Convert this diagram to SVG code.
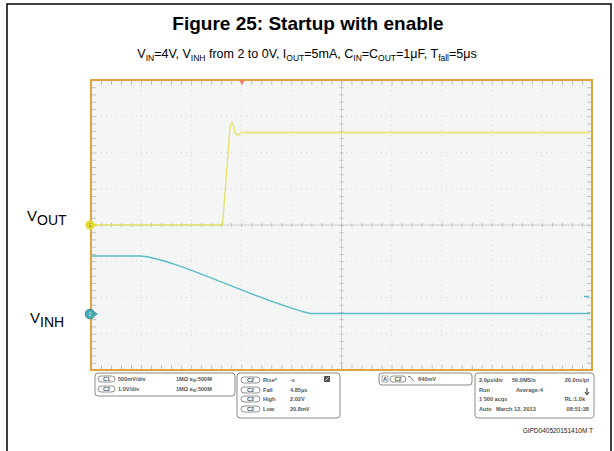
<svg xmlns="http://www.w3.org/2000/svg" width="614" height="451" viewBox="0 0 614 451">
<defs>
<style>
.title{font-family:"Liberation Sans",Arial,sans-serif;font-weight:bold;font-size:19px;fill:#000}
.sub{font-family:"Liberation Sans",Arial,sans-serif;font-size:12.5px;fill:#000}
.lbl{font-family:"Liberation Sans",Arial,sans-serif;font-size:15px;fill:#000}
.p{font-family:"Liberation Sans",Arial,sans-serif;font-weight:bold;font-size:5.6px;fill:#555}
.pill{fill:#fff;stroke:#777;stroke-width:0.8}
.panel{fill:#fff;stroke:#8a8a8a;stroke-width:1}
.grid{stroke:#d2d6d6;stroke-width:0.8;stroke-dasharray:1 4}
.code{font-family:"Liberation Sans",Arial,sans-serif;font-size:6.5px;fill:#222}
</style>
<pattern id="tx" x="91" y="0" width="10.02" height="1" patternUnits="userSpaceOnUse"><rect x="0" y="0" width="0.8" height="1" fill="#b4b8b8"/></pattern>
<pattern id="ty" x="0" y="80" width="1" height="7.25" patternUnits="userSpaceOnUse"><rect x="0" y="0" width="1" height="0.8" fill="#b4b8b8"/></pattern>
</defs>
<rect width="614" height="451" fill="#fff"/>
<path d="M7,451 V4 H611 V451" fill="none" stroke="#000" stroke-width="1.5"/>
<text class="title" x="308" y="30" text-anchor="middle">Figure 25: Startup with enable</text>
<text class="sub" x="307" y="58" text-anchor="middle">V<tspan font-size="8.5" dy="3">IN</tspan><tspan dy="-3">=4V, V</tspan><tspan font-size="8.5" dy="3">INH</tspan><tspan dy="-3"> from 2 to 0V, I</tspan><tspan font-size="8.5" dy="3">OUT</tspan><tspan dy="-3">=5mA, C</tspan><tspan font-size="8.5" dy="3">IN</tspan><tspan dy="-3">=C</tspan><tspan font-size="8.5" dy="3">OUT</tspan><tspan dy="-3">=1μF, T</tspan><tspan font-size="8.5" dy="3">fall</tspan><tspan dy="-3">=5μs</tspan></text>

<g id="plot">
<rect x="91" y="80" width="501" height="290" fill="#f4f6f6"/>
<g class="grid">
<path d="M141.1,80V370M191.2,80V370M241.3,80V370M291.4,80V370M391.6,80V370M441.7,80V370M491.8,80V370M541.9,80V370"/>
<path d="M91,116.25H592M91,152.5H592M91,188.75H592M91,261.25H592M91,297.5H592M91,333.75H592"/>
</g>
<path d="M341.5,80V370M91,225H592" stroke="#c2c6c6" stroke-width="0.8"/>
<rect x="91" y="81" width="501" height="4" fill="url(#tx)"/>
<rect x="91" y="365" width="501" height="4" fill="url(#tx)"/>
<rect x="91" y="223" width="501" height="4" fill="url(#tx)"/>
<rect x="92" y="80" width="4" height="290" fill="url(#ty)"/>
<rect x="587" y="80" width="4" height="290" fill="url(#ty)"/>
<rect x="339.5" y="80" width="4" height="290" fill="url(#ty)"/>
<rect x="91" y="80" width="501" height="290" fill="none" stroke="#e3a43e" stroke-width="2"/>
<path d="M239,80 L245,80 L242,85 Z" fill="#f08060"/>
</g>

<g id="traces" fill="none" stroke-linejoin="round">
<path id="vout-trace" d="M92,225 H222.5 L230,128 Q232,118 234,128 Q236,138 239,134 Q241,132 245,132.5 H590" stroke="#e6e26a" stroke-width="1.4"/>
<path id="vinh-trace" d="M92,256 H140 C175,258 255,300 310,313.5 H590" stroke="#59bcc6" stroke-width="1.4"/>
<path d="M584,296.5 H589" stroke="#59bcc6" stroke-width="1.4"/>
</g>

<g id="markers">
<circle cx="90" cy="225" r="4.5" fill="#e8da2c"/>
<path d="M94,223 L97,225 L94,227 Z" fill="#e8da2c"/>
<text x="90" y="227" font-family="Liberation Sans,sans-serif" font-size="4.5" fill="#665" text-anchor="middle">1</text>
<circle cx="90" cy="314" r="4.8" fill="#49a9b3" stroke="#2f7f88" stroke-width="0.8"/>
<path d="M95,312 L98,314 L95,316 Z" fill="#49a9b3"/>
<text x="90" y="316" font-family="Liberation Sans,sans-serif" font-size="4.5" fill="#dff" text-anchor="middle">2</text>
</g>

<g id="vout-label"><text class="lbl" x="27" y="221">V<tspan font-size="14" dy="4">OUT</tspan></text></g>
<g id="vinh-label"><text class="lbl" x="30" y="323">V<tspan font-size="14" dy="4">INH</tspan></text></g>

<g id="panel1">
<rect class="panel" x="95" y="373" width="140" height="23" rx="3"/>
<rect class="pill" x="98" y="376" width="17" height="6" rx="3"/><text class="p" x="106.5" y="381" text-anchor="middle">C1</text>
<rect class="pill" x="98" y="386" width="17" height="6" rx="3"/><text class="p" x="106.5" y="391" text-anchor="middle">C2</text>
<text class="p" x="118" y="381">500mV/div</text><text class="p" x="118" y="391">1.0V/div</text>
<text class="p" x="176" y="381">1MΩ  <tspan font-size="4">B</tspan><tspan font-size="3.5" dy="1">W</tspan><tspan dy="-1">:500M</tspan></text>
<text class="p" x="176" y="391">1MΩ  <tspan font-size="4">B</tspan><tspan font-size="3.5" dy="1">W</tspan><tspan dy="-1">:500M</tspan></text>
</g>

<g id="panel2">
<rect class="panel" x="237" y="373" width="103" height="45" rx="3"/>
<rect class="pill" x="241" y="377" width="19" height="6" rx="3"/><text class="p" x="250.5" y="382" text-anchor="middle">C2</text>
<rect class="pill" x="241" y="387" width="19" height="6" rx="3"/><text class="p" x="250.5" y="392" text-anchor="middle">C2</text>
<rect class="pill" x="241" y="396" width="19" height="6" rx="3"/><text class="p" x="250.5" y="401" text-anchor="middle">C2</text>
<rect class="pill" x="241" y="406" width="19" height="6" rx="3"/><text class="p" x="250.5" y="411" text-anchor="middle">C2</text>
<text class="p" x="263" y="382">Rise*</text><text class="p" x="263" y="392">Fall</text><text class="p" x="263" y="401">High</text><text class="p" x="263" y="411">Low</text>
<text class="p" x="290" y="382">-s</text><text class="p" x="290" y="392">4.85μs</text><text class="p" x="290" y="401">2.02V</text><text class="p" x="290" y="411">20.8mV</text>
<rect x="324" y="376" width="6" height="6" fill="#555"/><path d="M325.5,380.5 L328.5,377.5" stroke="#fff" stroke-width="0.8"/>
</g>

<g id="panel3">
<rect class="panel" x="379" y="373" width="93" height="12" rx="3"/>
<rect x="382" y="376" width="6" height="6" fill="#fff" stroke="#777" stroke-width="0.6"/><text class="p" x="385" y="381" text-anchor="middle">A</text>
<rect class="pill" x="390" y="376" width="16" height="6" rx="3"/><text class="p" x="398" y="381" text-anchor="middle">C2</text>
<path d="M408,376.5 L410,376.5 L414,381.5" fill="none" stroke="#555" stroke-width="0.8"/>
<text class="p" x="418" y="381">640mV</text>
</g>

<g id="panel4">
<rect class="panel" x="475" y="373" width="119" height="45" rx="3"/>
<text class="p" x="479" y="382">2.0μs/div</text><text class="p" x="512" y="382">50.0MS/s</text><text class="p" x="589" y="382" text-anchor="end">20.0ns/pt</text>
<text class="p" x="479" y="392">Run</text><text class="p" x="516" y="392">Average:4</text>
<path d="M587,388 V394 M585,392 L587,395 L589,392" fill="none" stroke="#333" stroke-width="1"/>
<text class="p" x="479" y="401">1 500 acqs</text><text class="p" x="585" y="401" text-anchor="end">RL:1.0k</text>
<text class="p" x="479" y="411">Auto</text><text class="p" x="496" y="411">March 12, 2013</text><text class="p" x="589" y="411" text-anchor="end">08:51:38</text>
</g>

<g id="code"><text class="code" x="593" y="433" text-anchor="end">GIPD040520151410M T</text></g>
</svg>
